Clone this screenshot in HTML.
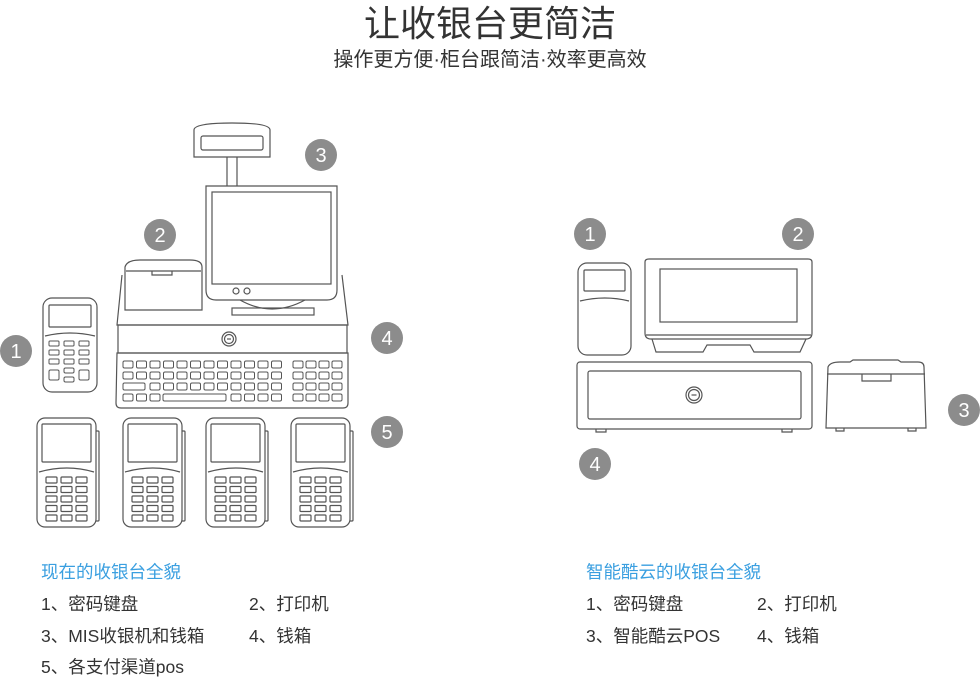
<!DOCTYPE html>
<html><head><meta charset="utf-8"><style>
body{margin:0;width:980px;height:677px;background:#fff;overflow:hidden;position:relative;font-family:"Liberation Sans","Noto Sans CJK SC",sans-serif;color:#333}
.t{position:absolute;white-space:nowrap;font-size:17.5px}
svg{position:absolute;left:0;top:0}
</style></head><body>
<div class="t" style="left:0;width:980px;text-align:center;top:-5px;font-size:36px;color:#333">让收银台更简洁</div>
<div class="t" style="left:0;width:980px;text-align:center;top:43px;font-size:20px;color:#333">操作更方便·柜台跟简洁·效率更高效</div>

<div class="t" style="left:41px;top:559px;color:#3a9fe0">现在的收银台全貌</div>
<div class="t" style="left:41px;top:591px">1、密码键盘</div>
<div class="t" style="left:249px;top:591px">2、打印机</div>
<div class="t" style="left:41px;top:623px">3、MIS收银机和钱箱</div>
<div class="t" style="left:249px;top:623px">4、钱箱</div>
<div class="t" style="left:41px;top:654px">5、各支付渠道pos</div>

<div class="t" style="left:586px;top:559px;color:#3a9fe0">智能酷云的收银台全貌</div>
<div class="t" style="left:586px;top:591px">1、密码键盘</div>
<div class="t" style="left:757px;top:591px">2、打印机</div>
<div class="t" style="left:586px;top:623px">3、智能酷云POS</div>
<div class="t" style="left:757px;top:623px">4、钱箱</div>

<svg width="980" height="677" viewBox="0 0 980 677" fill="none" stroke="#555" stroke-width="1.2">
<g id="g">
<path d="M194 157V130Q194 123 232 123Q270 123 270 130V157Z" fill="#fff"/>
<rect x="201" y="136" width="62" height="14" rx="2"/>
<path d="M227 157V186M237 157V186"/>
<path d="M122 275L117 325H348L342 275" fill="#fff"/>
<rect x="118" y="325" width="229" height="28"/>
<path d="M117 353H348V403Q348 408 343 408H121Q116 408 116 403Z"/>
<circle cx="229" cy="339" r="7"/><circle cx="229" cy="339" r="4.5"/><path d="M227 339H231"/>
<path d="M125 310V267Q127 260 140 260H190Q202 260 202 267V310Z" fill="#fff"/>
<path d="M126 271H201M152 271V275H172V271"/>
<path d="M240 300Q272 318 305 300" fill="#fff"/>
<rect x="232" y="308" width="82" height="7"/>
<path d="M206 186H337V290Q337 300 327 300H216Q206 300 206 290Z" fill="#fff"/>
<rect x="212" y="192" width="119" height="92"/>
<circle cx="236" cy="291" r="3"/><circle cx="247" cy="291" r="3"/>
<rect x="43" y="298" width="54" height="94" rx="9" fill="#fff"/>
<rect x="49" y="305" width="42" height="22" rx="1"/>
<path d="M45 336Q70 330 95 336"/>
</g>
<g id="keys" stroke-width="1"></g>
<g id="pos"></g>
<rect x="578" y="263" width="53" height="92" rx="9" fill="#fff"/>
<rect x="584" y="270" width="41" height="21" rx="1"/>
<path d="M580 301Q605 295 629 301"/>
<path d="M645 262Q645 259 649 259H808Q812 259 812 262V333Q812 339 806 339H651Q645 339 645 333Z" fill="#fff"/>
<rect x="660" y="269" width="137" height="53"/>
<path d="M646 335H811M652 339L656 352H703L707 345H750L754 352H800L806 339"/>
<rect x="577" y="362" width="235" height="67" rx="3" fill="#fff"/>
<rect x="588" y="371" width="213" height="48" rx="2"/>
<path d="M596 429V432H606V429M782 429V432H792V429"/>
<circle cx="694" cy="395" r="8"/><circle cx="694" cy="395" r="5.5"/><path d="M691.5 395H696.5"/>
<path d="M826 428L828 367Q830 362 840 362H850L853 360H898L901 362H918Q924 362 924 367L926 428Z" fill="#fff"/>
<path d="M827 374H925M862 374V381H891V374"/>
<path d="M836 428V431H844V428M908 428V431H916V428"/>
<g fill="#8c8c8c" stroke="none">
<circle cx="16" cy="351" r="16"/><circle cx="160" cy="235" r="16"/><circle cx="321" cy="155" r="16"/><circle cx="387" cy="338" r="16"/><circle cx="387" cy="432" r="16"/>
<circle cx="590" cy="234" r="16"/><circle cx="798" cy="234" r="16"/><circle cx="964" cy="410" r="16"/><circle cx="595" cy="464" r="16"/>
</g>
<g fill="#fff" stroke="none" font-family="Liberation Sans, sans-serif" font-size="20" text-anchor="middle">
<text x="16" y="358">1</text><text x="160" y="242">2</text><text x="321" y="162">3</text><text x="387" y="345">4</text><text x="387" y="439">5</text>
<text x="590" y="241">1</text><text x="798" y="241">2</text><text x="964" y="417">3</text><text x="595" y="471">4</text>
</g>
</svg>
<script>
var ns="http://www.w3.org/2000/svg";
function r(g,x,y,w,h,rx){var e=document.createElementNS(ns,"rect");e.setAttribute("x",x);e.setAttribute("y",y);e.setAttribute("width",w);e.setAttribute("height",h);e.setAttribute("rx",rx||1.5);g.appendChild(e);}
var k=document.getElementById("keys");
var ys=[361,372,383,394];
for(var i=0;i<4;i++){
 for(var j=0;j<12;j++){
  if(i==2&&j==0){r(k,123,ys[i],22,7);j=1;continue;}
  if(i==3&&j>=3&&j<=7){if(j==3)r(k,163,ys[i],63,7);continue;}
  r(k,123+j*13.5,ys[i],10,7);
 }
 for(var j=0;j<4;j++)r(k,293+j*13,ys[i],10,7);
}
for(var i=0;i<3;i++)for(var j=0;j<3;j++){r(k,49+j*15,341+i*9,10,5,1);r(k,584+j*14,306+i*9,10,5,1);}
r(k,64,368,10,5);r(k,64,377,10,5);r(k,49,370,10,10);r(k,79,370,10,10);
r(k,598,333,10,5);r(k,598,342,10,5);r(k,584,335,10,10);r(k,612,335,10,10);
var p=document.getElementById("pos");
[37,123,206,291].forEach(function(x){
 var g=document.createElementNS(ns,"g");p.appendChild(g);
 r(g,x+58,431,4,90,1);
 r(g,x,418,59,109,8);
 g.lastChild.setAttribute("fill","#fff");
 r(g,x+5,424,49,38,1);
 var e=document.createElementNS(ns,"path");e.setAttribute("d","M"+(x+2)+" 472Q"+(x+30)+" 464 "+(x+57)+" 472");g.appendChild(e);
 for(var i=0;i<5;i++)for(var j=0;j<3;j++)r(g,x+9+j*15,477+i*9.5,11,6,1);
});
</script>
</body></html>
